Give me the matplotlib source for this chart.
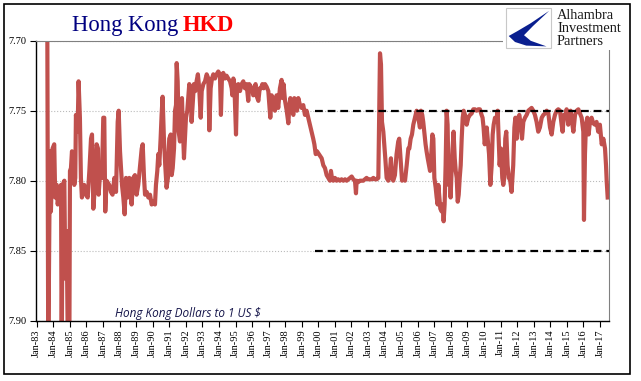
import numpy as np
import matplotlib
matplotlib.use("Agg")
import matplotlib.pyplot as plt
from matplotlib.patches import Rectangle, Polygon

# HKD per USD (decimal year, rate)
years_80s = [1983.64, 1983.70, 1983.80, 1983.86, 1983.96, 1984.06, 1984.12, 1984.21, 1984.27, 1984.37,
             1984.47, 1984.51, 1984.57, 1984.67, 1984.73, 1984.81, 1984.89, 1984.97, 1985.01, 1985.07,
             1985.13, 1985.21, 1985.27, 1985.33, 1985.37, 1985.47, 1985.53, 1985.61, 1985.67, 1985.73,
             1985.81, 1985.87, 1985.98, 1986.08, 1986.18, 1986.28, 1986.34, 1986.42, 1986.54, 1986.62,
             1986.70, 1986.74, 1986.82, 1986.94, 1987.02, 1987.08, 1987.14, 1987.22, 1987.38, 1987.48,
             1987.58, 1987.69, 1987.79, 1987.89, 1987.95, 1988.03, 1988.15, 1988.23, 1988.31, 1988.39,
             1988.49, 1988.59, 1988.73, 1988.83, 1988.93, 1989.03, 1989.13, 1989.23, 1989.34, 1989.40,
             1989.48, 1989.54, 1989.64, 1989.74, 1989.84, 1989.94]
rates_80s = [7.680, 7.930, 7.779, 7.822, 7.777, 7.774, 7.812, 7.803, 7.817, 7.808,
             7.803, 7.930, 7.803, 7.800, 7.870, 7.836, 7.930, 7.930, 7.793, 7.791,
             7.779, 7.784, 7.803, 7.798, 7.753, 7.765, 7.729, 7.755, 7.798, 7.812,
             7.808, 7.803, 7.810, 7.812, 7.793, 7.770, 7.767, 7.820, 7.800, 7.774,
             7.777, 7.810, 7.796, 7.798, 7.755, 7.755, 7.822, 7.800, 7.803, 7.808,
             7.810, 7.798, 7.808, 7.758, 7.750, 7.779, 7.803, 7.812, 7.824, 7.798,
             7.812, 7.798, 7.817, 7.798, 7.796, 7.810, 7.803, 7.791, 7.777, 7.774,
             7.798, 7.810, 7.808, 7.812, 7.810, 7.817]

years_90s = [1990.04, 1990.14, 1990.20, 1990.28, 1990.34, 1990.40, 1990.48, 1990.54, 1990.60, 1990.68,
             1990.76, 1990.84, 1990.92, 1991.00, 1991.09, 1991.15, 1991.21, 1991.29, 1991.35, 1991.41,
             1991.45, 1991.51, 1991.57, 1991.65, 1991.71, 1991.77, 1991.81, 1991.89, 1991.95, 1992.01,
             1992.09, 1992.15, 1992.21, 1992.29, 1992.35, 1992.41, 1992.49, 1992.57, 1992.65, 1992.73,
             1992.81, 1992.90, 1992.96, 1993.06, 1993.16, 1993.26, 1993.36, 1993.42, 1993.50, 1993.58,
             1993.66, 1993.76, 1993.86, 1993.96, 1994.06, 1994.12, 1994.18, 1994.26, 1994.36, 1994.46,
             1994.56, 1994.67, 1994.77, 1994.81, 1994.87, 1994.93, 1994.97, 1995.03, 1995.09, 1995.17,
             1995.27, 1995.37, 1995.47, 1995.57, 1995.67, 1995.77, 1995.83, 1995.93, 1996.01, 1996.07,
             1996.13, 1996.21, 1996.29, 1996.38, 1996.46, 1996.54, 1996.62, 1996.70, 1996.78, 1996.88,
             1996.98, 1997.04, 1997.10, 1997.18, 1997.28, 1997.38, 1997.48, 1997.58, 1997.68, 1997.78,
             1997.84, 1997.90, 1997.99, 1998.09, 1998.19, 1998.25, 1998.31, 1998.39, 1998.49, 1998.55,
             1998.63, 1998.71, 1998.79, 1998.89, 1998.99, 1999.09, 1999.19, 1999.29, 1999.39, 1999.49,
             1999.59, 1999.69, 1999.76, 1999.84, 1999.92]
rates_90s = [7.815, 7.817, 7.803, 7.793, 7.781, 7.789, 7.770, 7.753, 7.740, 7.770,
             7.789, 7.805, 7.798, 7.770, 7.767, 7.796, 7.791, 7.777, 7.750, 7.746,
             7.716, 7.729, 7.765, 7.772, 7.746, 7.741, 7.758, 7.784, 7.770, 7.755,
             7.750, 7.740, 7.731, 7.736, 7.758, 7.746, 7.731, 7.736, 7.729, 7.724,
             7.734, 7.755, 7.736, 7.731, 7.729, 7.724, 7.727, 7.764, 7.734, 7.727,
             7.724, 7.727, 7.724, 7.722, 7.724, 7.753, 7.727, 7.723, 7.727, 7.725,
             7.727, 7.729, 7.734, 7.739, 7.727, 7.731, 7.746, 7.767, 7.734, 7.731,
             7.736, 7.731, 7.729, 7.734, 7.731, 7.743, 7.731, 7.733, 7.734, 7.739,
             7.734, 7.731, 7.740, 7.743, 7.734, 7.734, 7.731, 7.734, 7.731, 7.733,
             7.736, 7.746, 7.755, 7.739, 7.743, 7.750, 7.739, 7.748, 7.734, 7.728,
             7.741, 7.731, 7.743, 7.750, 7.759, 7.746, 7.741, 7.748, 7.753, 7.741,
             7.743, 7.750, 7.741, 7.746, 7.748, 7.746, 7.753, 7.750, 7.755, 7.760,
             7.765, 7.770, 7.774, 7.781, 7.779]

years_00s = [2000.20, 2000.30, 2000.40, 2000.50, 2000.60, 2000.70, 2000.76, 2000.82, 2000.90, 2001.00,
             2001.10, 2001.20, 2001.30, 2001.40, 2001.51, 2001.61, 2001.71, 2001.81, 2001.91, 2002.01,
             2002.11, 2002.21, 2002.27, 2002.31, 2002.41, 2002.51, 2002.61, 2002.71, 2002.81, 2002.91,
             2003.01, 2003.11, 2003.21, 2003.32, 2003.42, 2003.52, 2003.62, 2003.68, 2003.72, 2003.78,
             2003.84, 2003.92, 2003.98, 2004.04, 2004.12, 2004.22, 2004.32, 2004.38, 2004.44, 2004.52,
             2004.62, 2004.72, 2004.82, 2004.88, 2004.97, 2005.05, 2005.13, 2005.23, 2005.33, 2005.43,
             2005.49, 2005.57, 2005.65, 2005.73, 2005.83, 2005.93, 2006.03, 2006.13, 2006.19, 2006.27,
             2006.33, 2006.39, 2006.47, 2006.53, 2006.60, 2006.68, 2006.74, 2006.80, 2006.88, 2006.94,
             2007.00, 2007.08, 2007.14, 2007.20, 2007.24, 2007.30, 2007.36, 2007.44, 2007.50, 2007.56,
             2007.62, 2007.68, 2007.74, 2007.80, 2007.86, 2007.92, 2007.98, 2008.04, 2008.10, 2008.16,
             2008.23, 2008.29, 2008.35, 2008.41, 2008.47, 2008.53, 2008.59, 2008.65, 2008.71, 2008.77,
             2008.85, 2008.95, 2009.05, 2009.15, 2009.25, 2009.35, 2009.45, 2009.55, 2009.65, 2009.75,
             2009.85, 2009.91, 2009.97]
rates_00s = [7.784, 7.789, 7.791, 7.796, 7.798, 7.800, 7.793, 7.798, 7.800, 7.798,
             7.800, 7.799, 7.800, 7.799, 7.800, 7.799, 7.800, 7.799, 7.798, 7.797,
             7.799, 7.800, 7.809, 7.800, 7.801, 7.800, 7.800, 7.800, 7.799, 7.798,
             7.799, 7.799, 7.799, 7.798, 7.799, 7.799, 7.798, 7.746, 7.709, 7.717,
             7.758, 7.765, 7.774, 7.784, 7.798, 7.800, 7.793, 7.784, 7.798, 7.800,
             7.796, 7.781, 7.772, 7.770, 7.786, 7.800, 7.798, 7.800, 7.789, 7.777,
             7.777, 7.770, 7.767, 7.760, 7.755, 7.750, 7.755, 7.762, 7.750, 7.753,
             7.758, 7.765, 7.774, 7.779, 7.784, 7.789, 7.793, 7.784, 7.767, 7.770,
             7.798, 7.805, 7.812, 7.817, 7.803, 7.812, 7.820, 7.822, 7.817, 7.829,
             7.817, 7.789, 7.750, 7.760, 7.803, 7.789, 7.812, 7.793, 7.777, 7.765,
             7.784, 7.793, 7.798, 7.815, 7.810, 7.798, 7.789, 7.770, 7.755, 7.750,
             7.753, 7.760, 7.755, 7.753, 7.752, 7.749, 7.749, 7.750, 7.749, 7.749,
             7.753, 7.755, 7.762]

years_10s = [2010.04, 2010.10, 2010.16, 2010.22, 2010.30, 2010.38, 2010.46, 2010.52, 2010.58, 2010.66,
             2010.74, 2010.82, 2010.88, 2010.94, 2011.02, 2011.10, 2011.16, 2011.22, 2011.28, 2011.34,
             2011.42, 2011.50, 2011.58, 2011.66, 2011.76, 2011.83, 2011.89, 2011.97, 2012.05, 2012.13,
             2012.21, 2012.29, 2012.37, 2012.47, 2012.57, 2012.67, 2012.77, 2012.87, 2012.97, 2013.07,
             2013.17, 2013.27, 2013.37, 2013.48, 2013.58, 2013.68, 2013.78, 2013.88, 2013.98, 2014.08,
             2014.18, 2014.28, 2014.38, 2014.48, 2014.58, 2014.68, 2014.74, 2014.82, 2014.90, 2014.98,
             2015.08, 2015.14, 2015.22, 2015.31, 2015.39, 2015.49, 2015.59, 2015.69, 2015.79, 2015.89,
             2015.99, 2016.03, 2016.09, 2016.15, 2016.23, 2016.31, 2016.39, 2016.49, 2016.59, 2016.69,
             2016.79, 2016.89, 2016.99, 2017.10, 2017.20, 2017.30, 2017.36, 2017.40, 2017.46]
rates_10s = [7.774, 7.767, 7.762, 7.770, 7.781, 7.803, 7.789, 7.767, 7.760, 7.755,
             7.758, 7.750, 7.770, 7.789, 7.777, 7.798, 7.803, 7.798, 7.770, 7.765,
             7.789, 7.798, 7.800, 7.808, 7.789, 7.762, 7.755, 7.770, 7.755, 7.753,
             7.760, 7.770, 7.758, 7.755, 7.753, 7.750, 7.749, 7.748, 7.750, 7.753,
             7.758, 7.765, 7.762, 7.755, 7.753, 7.752, 7.750, 7.752, 7.762, 7.767,
             7.758, 7.753, 7.750, 7.749, 7.750, 7.760, 7.765, 7.753, 7.755, 7.749,
             7.760, 7.755, 7.750, 7.758, 7.765, 7.753, 7.750, 7.749, 7.752, 7.755,
             7.765, 7.828, 7.781, 7.760, 7.755, 7.767, 7.758, 7.755, 7.759, 7.760,
             7.758, 7.765, 7.760, 7.774, 7.770, 7.777, 7.789, 7.800, 7.812]

tick_years = list(range(1983, 2018))
tick_labels = ["Jan-%02d" % (y % 100) for y in tick_years]
band_levels = [7.75, 7.85]
band_start = 1999.8

years = np.array(years_80s + years_90s + years_00s + years_10s)
rates = np.array(rates_80s + rates_90s + rates_00s + rates_10s)

W, H = 641, 381
fig = plt.figure(figsize=(W / 100, H / 100), dpi=100)
fig.patch.set_facecolor("white")

def fx(px):
    return px / W

def fy(py):
    return 1 - py / H

ax = fig.add_axes([fx(36), fy(320.7), fx(609) - fx(36), fy(40.7) - fy(320.7)])
xmin, xmax = 1982.96, 2017.54
ax.set_xlim(xmin, xmax)
ax.set_ylim(7.90, 7.70)

ax.plot(years, rates, color="#C0504D", lw=3.0, solid_joinstyle="round", zorder=2)
ax.hlines(band_levels, band_start, xmax, colors="black", lw=1.6,
          linestyles=(0, (3.5, 2.2)), zorder=3)

ax.set_yticks([7.70, 7.75, 7.80, 7.85, 7.90])
ax.set_yticklabels(["7.70", "7.75", "7.80", "7.85", "7.90"])
ax.set_xticks(tick_years)
ax.set_xticklabels(tick_labels, rotation=90)
for lab in ax.get_xticklabels() + ax.get_yticklabels():
    lab.set_fontfamily("Liberation Serif")
    lab.set_fontsize(7.5)
ax.tick_params(axis="both", direction="out", length=4, width=0.8, pad=2)
ax.tick_params(axis="y", pad=3)

ax.yaxis.grid(True, color="#BBBBBB", linestyle=":", lw=0.8)
ax.set_axisbelow(True)
ax.spines["top"].set_color("#808080")
ax.spines["right"].set_color("#808080")
ax.spines["left"].set_linewidth(1.0)
ax.spines["bottom"].set_linewidth(1.0)

# title
fig.text(fx(72), fy(31), "Hong Kong", color="#000080", fontsize=16.3,
         family="Liberation Serif", va="baseline", ha="left")
fig.text(fx(183), fy(31), "HKD", color="#FF0000", fontsize=16.3, fontweight="bold",
         family="Liberation Serif", va="baseline", ha="left")

# note
fig.text(fx(115), fy(316.5), "Hong Kong Dollars to 1 US $", style="italic",
         fontsize=8.5, family="Open Sans", color="#15154a", va="baseline", ha="left")

# logo area
fig.patches.append(Rectangle((fx(503), fy(50)), fx(613) - fx(503), fy(6) - fy(50),
                             transform=fig.transFigure, facecolor="white",
                             edgecolor="none", zorder=5))
bx0, bx1, by0, by1 = 506, 551, 8, 48
fig.patches.append(Rectangle((fx(bx0), fy(by1)), fx(bx1) - fx(bx0), fy(by0) - fy(by1),
                             transform=fig.transFigure, facecolor="white",
                             edgecolor="#C8C8C8", lw=0.8, zorder=6))
shape = [(0.96, 0.93), (0.55, 0.62), (0.25, 0.42), (0.06, 0.30), (0.20, 0.15),
         (0.45, 0.06), (0.90, 0.04), (0.55, 0.18), (0.40, 0.32), (0.60, 0.55)]
pts = [(fx(bx0 + u * (bx1 - bx0)), fy(by1 - v * (by1 - by0))) for u, v in shape]
fig.patches.append(Polygon(pts, closed=True, transform=fig.transFigure,
                           facecolor="#0A1F8F", edgecolor="none", zorder=7))
for i, word in enumerate(["Alhambra", "Investment", "Partners"]):
    fig.text(fx(557), fy(19 + 13 * i), word, fontsize=10.4, family="Liberation Serif",
             color="#1a1a1a", va="baseline", ha="left", zorder=8)

# outer frame
fig.patches.append(Rectangle((fx(4), fy(374)), fx(630) - fx(4), fy(4) - fy(374),
                             transform=fig.transFigure, fill=False,
                             edgecolor="black", lw=1.2, zorder=9))

fig.savefig("out.png", dpi=100)
